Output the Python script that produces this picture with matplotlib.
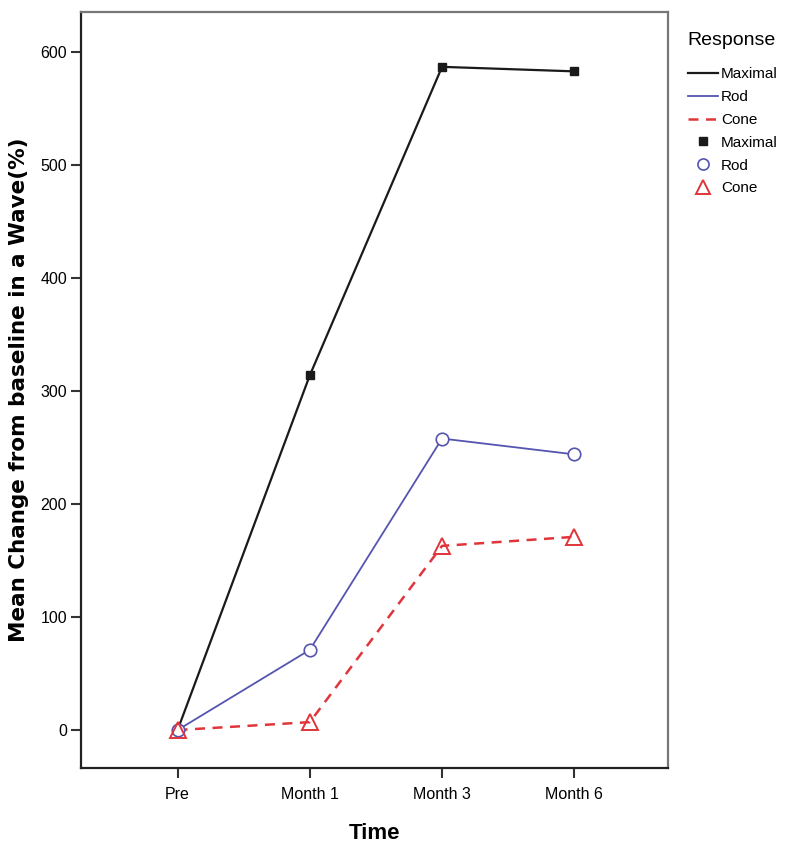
import matplotlib
matplotlib.use("Agg")
import matplotlib.pyplot as plt
from matplotlib.lines import Line2D

plt.rcParams['font.family'] = ['Liberation Sans', 'DejaVu Sans']

times = ["Pre", "Month 1", "Month 3", "Month 6"]
maximal = [0, 314, 587, 583]
rod = [0, 71, 258, 244]
cone = [0, 7, 163, 171]
yticks = [0, 100, 200, 300, 400, 500, 600]

c_max = "#1a1a1a"
c_rod = "#5555b0"
c_cone = "#e0353b"

fig = plt.figure(figsize=(7.87, 8.56), dpi=100)
ax = fig.add_axes([0.103, 0.1028, 0.746, 0.883])
x = list(range(len(times)))

ax.plot(x, maximal, color=c_max, lw=1.6, zorder=3)
ax.plot(x, rod, color=c_rod, lw=1.3, zorder=3)
ax.plot(x, cone, color=c_cone, lw=1.8, ls=(0, (4, 3)), zorder=3)
ax.plot(x, maximal, ls='none', marker='s', ms=6, color=c_max, zorder=4)
ax.plot(x, rod, ls='none', marker='o', ms=9, mfc='white', mec=c_rod, mew=1.2, zorder=4)
ax.plot(x, cone, ls='none', marker='^', ms=11, mfc='none', mec=c_cone, mew=1.4, zorder=5)

ax.set_xlim(-0.73, 3.71)
ax.set_ylim(-33.6, 635.4)
ax.set_xticks(x)
ax.set_xticklabels(times)
ax.set_yticks(yticks)
ax.tick_params(axis='both', labelsize=11.5, length=7, width=1.5, color='#333333', pad=3)
ax.tick_params(axis='x', pad=7)
for s in ['left', 'bottom']:
    ax.spines[s].set_linewidth(1.6)
    ax.spines[s].set_color('#222222')
for s in ['top', 'right']:
    ax.spines[s].set_linewidth(1.6)
    ax.spines[s].set_color('#777777')

ax.set_xlabel("Time", fontsize=16, fontweight='bold', labelpad=15)
ax.set_ylabel("Mean Change from baseline in a Wave(%)", fontsize=15.5, fontweight='bold',
              labelpad=8, family=['DejaVu Sans'])

handles = [
    Line2D([], [], color=c_max, lw=1.6),
    Line2D([], [], color=c_rod, lw=1.3),
    Line2D([], [], color=c_cone, lw=1.8, ls=(0, (4, 3))),
    Line2D([], [], ls='none', marker='s', ms=6, color=c_max),
    Line2D([], [], ls='none', marker='o', ms=8, mfc='white', mec=c_rod, mew=1.2),
    Line2D([], [], ls='none', marker='^', ms=10, mfc='none', mec=c_cone, mew=1.4),
]
labels = ["Maximal", "Rod", "Cone", "Maximal", "Rod", "Cone"]
leg = fig.legend(handles, labels, title="Response", loc='upper left',
                 bbox_to_anchor=(0.86, 0.975), frameon=False, fontsize=11,
                 title_fontsize=14, handlelength=2.0, handletextpad=0.2,
                 labelspacing=0.58, borderpad=0.2)
leg._legend_box.align = "left"
leg._legend_box.sep = 13

fig.savefig("out.png", dpi=100)
